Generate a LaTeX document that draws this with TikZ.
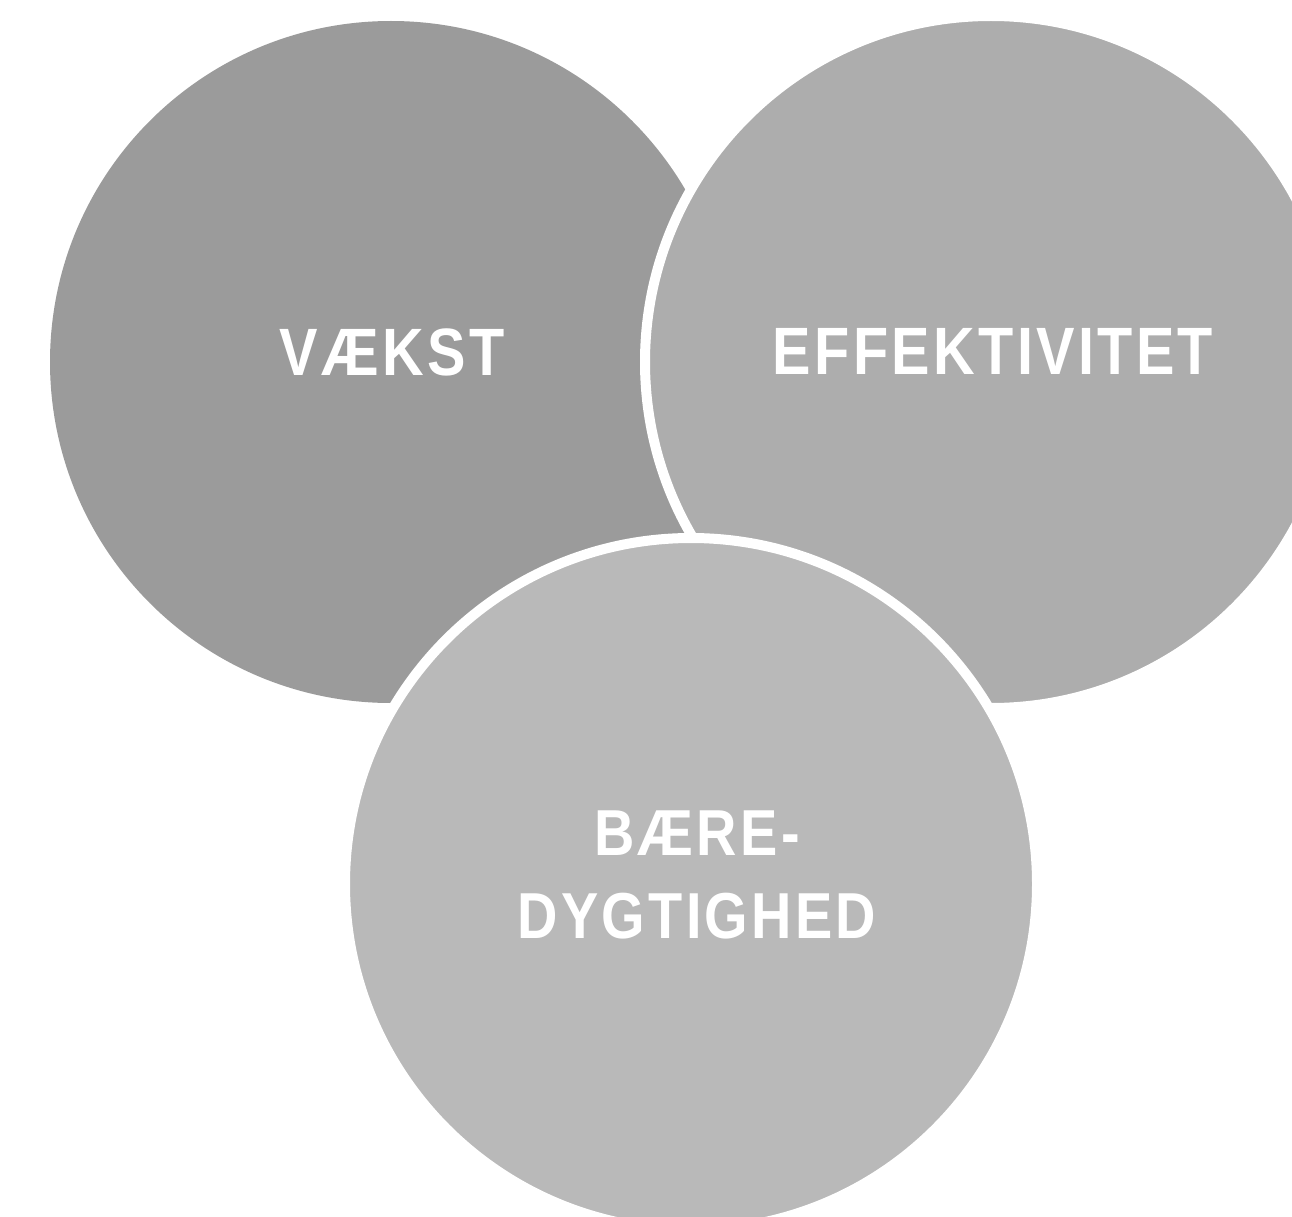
\documentclass[tikz,border=0pt]{standalone}
\usepackage{fontspec}
\newfontfamily\labelfont[FakeStretch=0.86,LetterSpace=5]{Liberation Sans Bold}
\definecolor{cone}{HTML}{9B9B9B}
\definecolor{ctwo}{HTML}{ADADAD}
\definecolor{cthree}{HTML}{B9B9B9}
\tikzset{
  bubble/.style={circle, minimum size=682pt, inner sep=0pt},
  ringed/.style={draw=white, line width=10pt, minimum size=692pt},
  lbl/.style={text=white, inner sep=0pt, font=\labelfont\fontsize{67}{80}\selectfont},
  lblsmall/.style={text=white, inner sep=0pt, align=center, font=\labelfont\fontsize{65}{83}\selectfont},
}
\begin{document}
\begin{tikzpicture}[x=1pt,y=-1pt]
\useasboundingbox (0,0) rectangle (1292,1217);
\clip (0,0) rectangle (1292,1217);
\fill[white] (0,0) rectangle (1292,1217);
\node[bubble, fill=cone] (vaekst) at (391,362) {};
\node[bubble, fill=ctwo, ringed] (eff) at (991,362) {};
\node[bubble, fill=cthree, ringed] (baere) at (691,884) {};
\node[lbl, anchor=base] (t1) at (392,375) {VÆKST};
\node[lbl, anchor=base] (t2) at (993,374) {EFFEKTIVITET};
\node[lblsmall, anchor=center] (t3) at (697,875) {BÆRE-\\DYGTIGHED};
\end{tikzpicture}
\end{document}
